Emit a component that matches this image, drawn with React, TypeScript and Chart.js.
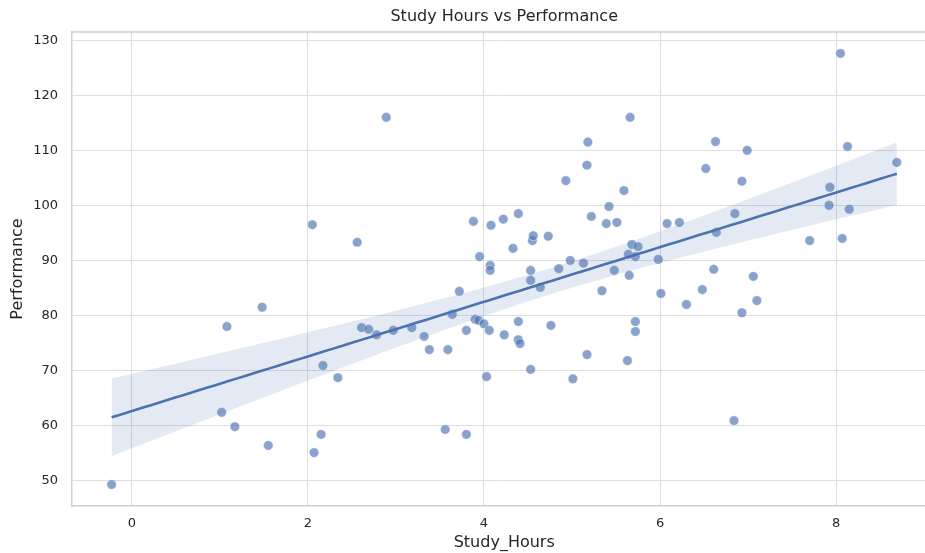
import React, { useEffect, useRef } from "react";
import { Chart, registerables } from "chart.js";

Chart.register(...registerables);

const chartTitle = "Study Hours vs Performance";
const xLabel = "Study_Hours";
const yLabel = "Performance";

const studyHours = [
  -0.23, 1.02, 1.17, 1.08, 1.48, 1.55, 2.05, 2.07, 2.15, 2.17,
  2.34, 2.56, 2.89, 2.61, 2.69, 2.78, 2.97, 3.18, 3.32, 3.38,
  3.59, 3.56, 3.64, 3.72, 3.8, 3.8, 3.88, 3.9, 3.94, 3.95,
  4.0, 4.03, 4.06, 4.07, 4.07, 4.08, 4.22, 4.23, 4.33, 4.39,
  4.39, 4.39, 4.41, 4.53, 4.53, 4.55, 4.56, 4.53, 4.64, 4.73,
  4.76, 4.85, 4.93, 4.98, 5.01, 5.13, 5.17, 5.18, 5.17, 5.22,
  5.34, 5.39, 5.42, 5.48, 5.51, 5.59, 5.63, 5.66, 5.64, 5.65,
  5.68, 5.72, 5.72, 5.72, 5.75, 5.98, 6.01, 6.08, 6.22, 6.3,
  6.48, 6.52, 6.63, 6.61, 6.64, 6.84, 6.85, 6.93, 6.93, 6.99,
  7.06, 7.1, 7.7, 7.93, 7.92, 8.05, 8.07, 8.13, 8.15, 8.69,
];

const performance = [
  49.3, 62.4, 59.8, 78.0, 81.5, 56.4, 96.5, 55.1, 58.4, 70.9,
  68.7, 93.3, 116.0, 77.8, 77.5, 76.5, 77.3, 77.8, 76.2, 73.8,
  73.8, 59.3, 80.2, 84.4, 58.4, 77.3, 97.1, 79.3, 79.1, 90.7,
  78.5, 68.9, 77.3, 89.1, 88.2, 96.4, 97.5, 76.5, 92.2, 75.6,
  98.5, 78.9, 74.9, 88.2, 86.4, 93.6, 94.5, 70.2, 85.1, 94.4,
  78.2, 88.5, 104.5, 90.0, 68.5, 89.5, 72.9, 111.5, 107.3, 98.0,
  84.5, 96.7, 99.8, 88.2, 96.9, 102.7, 71.8, 116.0, 91.1, 87.3,
  92.9, 90.7, 78.9, 77.1, 92.5, 90.2, 84.0, 96.7, 96.9, 82.0,
  84.7, 106.7, 111.6, 88.4, 95.1, 60.9, 98.5, 104.4, 80.5, 110.0,
  87.1, 82.7, 93.6, 103.3, 100.0, 127.6, 94.0, 110.7, 99.3, 107.8,
];

const xTicks = [0, 2, 4, 6, 8];
const yTicks = [50, 60, 70, 80, 90, 100, 110, 120, 130];

// visible x-range (the original figure is cropped on the right) and the full axis limit
const xMin = -0.68;
const xVisibleMax = 9.01;
const xFullMax = 9.14;

const FONT = "'DejaVu Sans', sans-serif";
const TEXT = "#262626";
const BLUE = "#4C72B0";

function regression(xs: number[], ys: number[]) {
  const n = xs.length;
  const mx = xs.reduce((a, b) => a + b, 0) / n;
  const my = ys.reduce((a, b) => a + b, 0) / n;
  let sxx = 0, sxy = 0;
  for (let i = 0; i < n; i++) {
    sxx += (xs[i] - mx) ** 2;
    sxy += (xs[i] - mx) * (ys[i] - my);
  }
  const b = sxy / sxx;
  const a = my - b * mx;
  let sse = 0;
  for (let i = 0; i < n; i++) sse += (ys[i] - a - b * xs[i]) ** 2;
  const s = Math.sqrt(sse / (n - 2));
  const t = 1.984;
  const lo = Math.min(...xs);
  const hi = Math.max(...xs);
  const steps = 100;
  const line: { x: number; y: number }[] = [];
  const upper: { x: number; y: number }[] = [];
  const lower: { x: number; y: number }[] = [];
  for (let k = 0; k <= steps; k++) {
    const x = lo + ((hi - lo) * k) / steps;
    const yhat = a + b * x;
    const se = s * Math.sqrt(1 / n + (x - mx) ** 2 / sxx);
    line.push({ x, y: yhat });
    upper.push({ x, y: yhat + t * se });
    lower.push({ x, y: yhat - t * se });
  }
  return { line, upper, lower };
}

const framePlugin = {
  id: "frameAndTitles",
  afterDraw(chart: any) {
    const { ctx, chartArea } = chart;
    const xs = chart.scales.x;
    ctx.save();
    ctx.strokeStyle = "#cfcfcf";
    ctx.lineWidth = 1.5;
    ctx.beginPath();
    ctx.moveTo(chartArea.left, chartArea.top);
    ctx.lineTo(chartArea.right, chartArea.top);
    ctx.stroke();

    const cx = (chartArea.left + xs.getPixelForValue(xFullMax)) / 2;
    ctx.fillStyle = TEXT;
    ctx.font = `16px ${FONT}`;
    ctx.textAlign = "center";
    ctx.textBaseline = "middle";
    ctx.fillText(chartTitle, cx, 17);
    ctx.fillText(xLabel, cx, 543);
    ctx.restore();
  },
};

export default function App() {
  const ref = useRef<HTMLCanvasElement | null>(null);

  useEffect(() => {
    document.body.style.margin = "0";
    const canvas = ref.current;
    if (!canvas) return;
    const reg = regression(studyHours, performance);
    const points = studyHours.map((x, i) => ({ x, y: performance[i] }));

    const chart = new Chart(canvas, {
      type: "scatter",
      data: {
        datasets: [
          {
            type: "line",
            data: reg.line,
            borderColor: BLUE,
            borderWidth: 2.6,
            pointRadius: 0,
            fill: false,
            order: 0,
          } as any,
          {
            type: "line",
            data: reg.upper,
            borderWidth: 0,
            borderColor: "rgba(0,0,0,0)",
            pointRadius: 0,
            fill: false,
            order: 1,
          } as any,
          {
            type: "line",
            data: reg.lower,
            borderWidth: 0,
            borderColor: "rgba(0,0,0,0)",
            backgroundColor: "rgba(76,114,176,0.15)",
            pointRadius: 0,
            fill: "-1",
            order: 1,
          } as any,
          {
            type: "scatter",
            data: points,
            backgroundColor: "rgba(76,114,176,0.65)",
            borderColor: "rgba(255,255,255,0.7)",
            borderWidth: 0.6,
            pointRadius: 4.8,
            order: 2,
          } as any,
        ],
      },
      options: {
        responsive: false,
        animation: false,
        layout: { autoPadding: false, padding: { top: 32, left: 0, right: 0, bottom: 0 } },
        plugins: {
          legend: { display: false },
          tooltip: { enabled: false },
          title: { display: false },
        },
        scales: {
          x: {
            type: "linear",
            min: xMin,
            max: xVisibleMax,
            afterBuildTicks: (scale: any) => {
              scale.ticks = xTicks.map((v) => ({ value: v }));
            },
            afterFit: (scale: any) => {
              scale.height = 47;
              scale.paddingRight = 0;
              scale.paddingLeft = 0;
            },
            ticks: {
              color: TEXT,
              font: { family: FONT, size: 13 },
              padding: 10,
              maxRotation: 0,
            },
            grid: { color: "#dedede", lineWidth: 1, drawTicks: false },
            border: { color: "#cfcfcf", width: 1.5 },
            title: { display: false },
          },
          y: {
            type: "linear",
            min: 45.4,
            max: 131.5,
            afterBuildTicks: (scale: any) => {
              scale.ticks = yTicks.map((v) => ({ value: v }));
            },
            afterFit: (scale: any) => {
              scale.width = 72;
            },
            ticks: {
              color: TEXT,
              font: { family: FONT, size: 13 },
              padding: 14,
            },
            grid: { color: "#dedede", lineWidth: 1, drawTicks: false },
            border: { color: "#cfcfcf", width: 1.5 },
            title: {
              display: true,
              text: yLabel,
              color: TEXT,
              font: { family: FONT, size: 16 },
              padding: { top: 8, bottom: 0 },
            },
          },
        },
      },
      plugins: [framePlugin],
    });
    return () => chart.destroy();
  }, []);

  return (
    <canvas
      ref={ref}
      width={925}
      height={553}
      style={{ display: "block", width: 925, height: 553 }}
    />
  );
}
